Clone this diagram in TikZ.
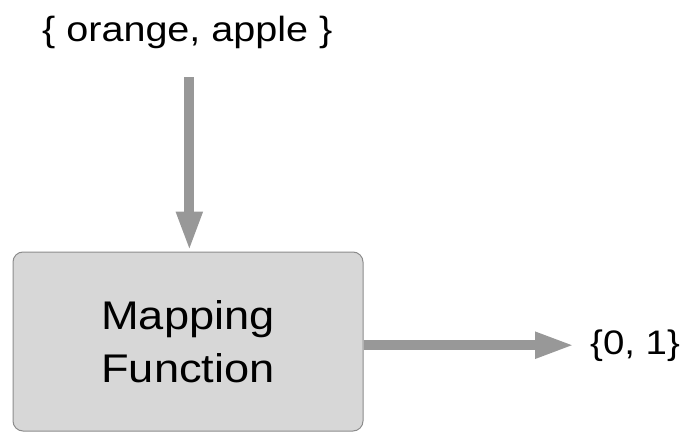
\documentclass[tikz,border=0pt]{standalone}
\usepackage{fontspec}
\setmainfont{Liberation Sans}
\newfontfamily\labelfont[FakeStretch=1.13]{Liberation Sans}
\usetikzlibrary{arrows.meta,
  calc,
  positioning
}

\definecolor{boxfill}{RGB}{215,215,215}
\definecolor{boxedge}{RGB}{140,140,140}
\definecolor{flowgray}{RGB}{152,152,152}

\tikzset{
  mapbox/.style={draw=boxedge, line width=1pt, fill=boxfill, rounded corners=10pt,
    minimum width=350pt, minimum height=179pt, align=center,
    font=\labelfont\fontsize{40}{53}\selectfont},
  settext/.style={inner sep=0pt, font=\labelfont\fontsize{35}{42}\selectfont},
  flow/.style={draw=flowgray, line width=10pt,
    -{Triangle[length=40pt, width=24pt, fill=flowgray]}}
}

\begin{document}
\begin{tikzpicture}[x=1pt, y=1pt]
  \useasboundingbox (0, 0) rectangle (685, 432);

  % input set
  \node[settext, anchor=base west] (fruits) at (42, 390) {\{ orange, apple \}};

  % mapping
  \node[mapbox] (map) at (188, 90.5) {Mapping\\Function};
  \draw[flow] ([xshift=2pt, yshift=-28pt]fruits.south) -- ([xshift=2pt]fruits.south |- map.north);

  % output set
  \node[settext, font=\labelfont\fontsize{34}{40}\selectfont, anchor=base west] (binary) at (590, 78) {\{0, 1\}};
  \draw[flow] (map.east |- binary.west) -- ([xshift=-15pt]binary.west);
\end{tikzpicture}
\end{document}
